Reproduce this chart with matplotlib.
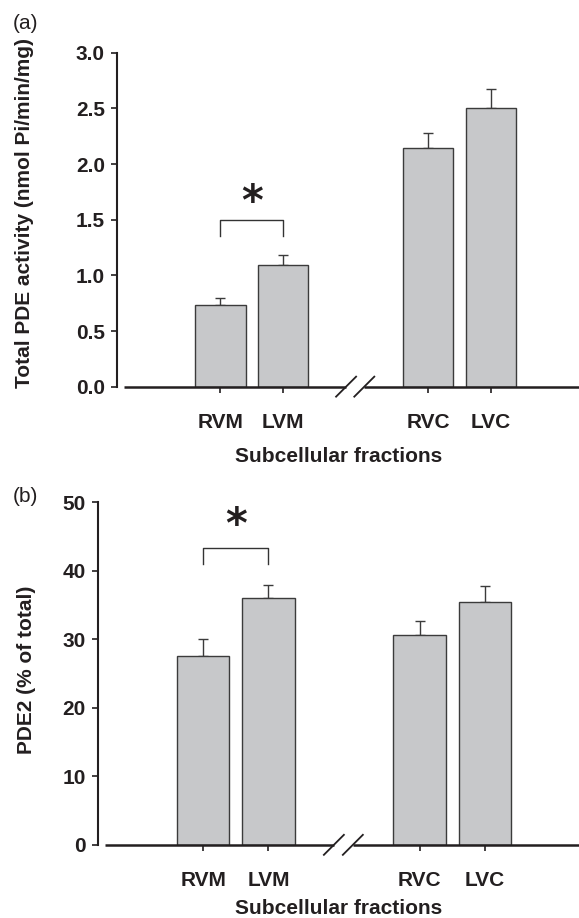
import matplotlib
matplotlib.use("Agg")
import matplotlib.pyplot as plt
from matplotlib.transforms import blended_transform_factory

plt.rcParams['font.family'] = ['Liberation Sans', 'DejaVu Sans']

fractions = ["RVM", "LVM", "RVC", "LVC"]
total_activity = [0.73, 1.09, 2.14, 2.50]
total_sem = [0.07, 0.09, 0.14, 0.17]
pde2_pct = [27.6, 36.1, 30.7, 35.4]
pde2_sem = [2.4, 1.8, 2.0, 2.4]

# layout (x positions of the bars, break between membrane and cytosol groups)
xpos = [1, 2, 4.31, 5.31]
brk = (3.0, 3.29)

ink = "#231f20"
bar_fill = "#c7c8ca"
bar_edge = "#3b3b3b"

fig = plt.figure(figsize=(5.79, 9.18), dpi=100)


def panel(rect, xlim, vals, sems, ylim, yticks, yfmt, ylabel, ylab_xy,
          xlab_xy, bracket, star_y, letter, letter_y):
    ax = fig.add_axes(rect)
    ax.bar(xpos, vals, width=0.8, color=bar_fill, edgecolor=bar_edge,
           linewidth=1.0, zorder=3)
    ax.errorbar(xpos, vals, yerr=[[0] * len(vals), sems], fmt="none",
                ecolor=bar_edge, elinewidth=1.0, capsize=3.6, capthick=1.0,
                zorder=2)
    ax.set_xlim(*xlim)
    ax.set_ylim(*ylim)
    ax.set_yticks(yticks)
    ax.set_yticklabels([yfmt.format(t) for t in yticks])
    ax.set_xticks(xpos)
    ax.set_xticklabels(fractions)
    for s in ["top", "right", "bottom"]:
        ax.spines[s].set_visible(False)
    ax.spines["left"].set_linewidth(1.5)
    ax.spines["left"].set_color(ink)
    ax.tick_params(axis="y", direction="out", length=4, width=1.2, color=ink,
                   labelsize=15, pad=5, labelcolor=ink)
    ax.tick_params(axis="x", direction="out", length=4, width=1.2, color=ink,
                   labelsize=15, pad=15, labelcolor=ink)
    for lab in ax.get_xticklabels() + ax.get_yticklabels():
        lab.set_fontweight("bold")

    # broken x axis line
    tr = blended_transform_factory(ax.transData, ax.transAxes)
    x_start = xlim[0] + 0.1
    ax.plot([x_start, brk[0]], [0, 0], color=ink, lw=1.8, transform=tr,
            clip_on=False, solid_capstyle="butt", zorder=4)
    ax.plot([brk[1], xlim[1]], [0, 0], color=ink, lw=1.8, transform=tr,
            clip_on=False, solid_capstyle="butt", zorder=4)
    w_px = rect[2] * 579
    h_px = rect[3] * 918
    dx = 10 / w_px * (xlim[1] - xlim[0])
    dy = 10 / h_px
    for xb in brk:
        ax.plot([xb - dx, xb + dx], [-dy, dy], color=ink, lw=1.3,
                transform=tr, clip_on=False, zorder=4)

    # significance bracket
    i, j = 0, 1
    y_lo, y_hi = bracket
    ax.plot([xpos[i], xpos[i], xpos[j], xpos[j]], [y_lo, y_hi, y_hi, y_lo],
            color="#333333", lw=1.0, zorder=4)
    ax.text((xpos[i] + xpos[j]) / 2, star_y, "*", ha="center", va="center",
            fontsize=30, fontweight="bold", color=ink, family="DejaVu Sans")

    ax.set_ylabel(ylabel, fontsize=15, fontweight="bold", color=ink)
    ax.yaxis.set_label_coords(*ylab_xy)
    ax.yaxis.label.set_va("center")
    ax.set_xlabel("Subcellular fractions", fontsize=15, fontweight="bold",
                  color=ink)
    ax.xaxis.set_label_coords(*xlab_xy)
    ax.xaxis.label.set_va("center")

    fig.text(25 / 579, letter_y, letter, ha="center", va="center",
             fontsize=15, color=ink)
    return ax


panel([0.2026, 0.5788, 0.7974, 0.3638], (-0.643, 6.709),
      total_activity, total_sem, (0, 3.0), [0, 0.5, 1.0, 1.5, 2.0, 2.5, 3.0],
      "{:.1f}", "Total PDE activity (nmol Pi/min/mg)", (-0.20, 0.52),
      (0.479, -0.2096), (1.35, 1.50), 1.65, "(a)", 1 - 23.3 / 918)

panel([0.1698, 0.0797, 0.8302, 0.3731], (-0.602, 6.748),
      pde2_pct, pde2_sem, (0, 50), [0, 10, 20, 30, 40, 50],
      "{:d}", "PDE2 (% of total)", (-0.150, 0.51),
      (0.4997, -0.1854), (41.0, 43.3), 46.5, "(b)", 1 - 496.7 / 918)

fig.savefig("out.png", dpi=100)
